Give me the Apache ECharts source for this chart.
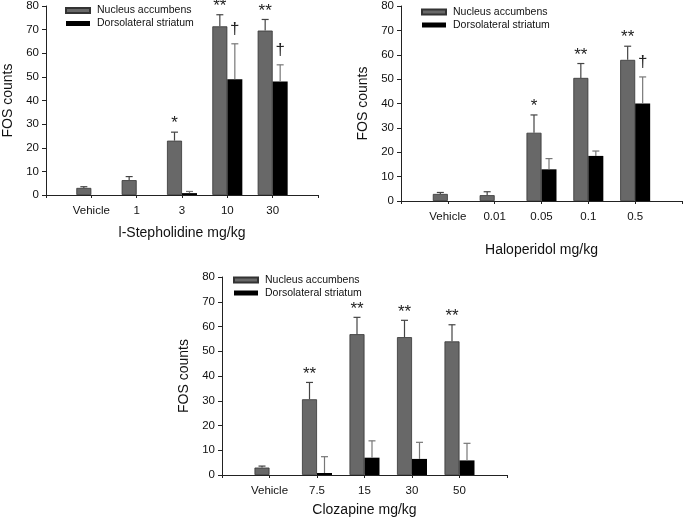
<!DOCTYPE html>
<html><head><meta charset="utf-8">
<script src="https://cdn.jsdelivr.net/npm/echarts@6/dist/echarts.min.js"></script>
<style>html,body{margin:0;padding:0;background:#fff}#c{width:685px;height:519px}</style>
</head><body><div id="c"></div>
<script>
const seriesNames = ['Nucleus accumbens', 'Dorsolateral striatum'];
const yTickMin = 0, yTickMax = 80, yTickStep = 10;

// Panel 1: l-Stepholidine
const stephCategories = ['Vehicle', '1', '3', '10', '30'];
const stephNA = [3.0, 6.3, 23.0, 71.4, 69.6];
const stephNAErr = [0.5, 1.5, 3.6, 4.9, 4.7];
const stephDS = [0, 0, 0.8, 49.0, 48.0];
const stephDSErr = [0, 0, 0.7, 15.0, 7.1];
const stephNASig = ['', '', '*', '**', '**'];
const stephDSSig = ['', '', '', '\u2020', '\u2020'];

// Panel 2: Haloperidol
const haloCategories = ['Vehicle', '0.01', '0.05', '0.1', '0.5'];
const haloNA = [2.9, 2.4, 28.0, 50.5, 57.9];
const haloNAErr = [0.6, 1.4, 7.3, 5.9, 5.6];
const haloDS = [0, 0, 13.0, 18.5, 40.0];
const haloDSErr = [0, 0, 4.4, 2.0, 10.9];
const haloNASig = ['', '', '*', '**', '**'];
const haloDSSig = ['', '', '', '', '\u2020'];

// Panel 3: Clozapine
const clozCategories = ['Vehicle', '7.5', '15', '30', '50'];
const clozNA = [3.0, 30.6, 56.9, 55.7, 54.0];
const clozNAErr = [0.6, 6.8, 6.8, 6.8, 6.7];
const clozDS = [0, 0.8, 7.0, 6.5, 5.9];
const clozDSErr = [0, 6.6, 6.8, 6.7, 6.9];
const clozNASig = ['', '**', '**', '**', '**'];
const clozDSSig = ['', '', '', '', ''];

const FONT = 'Liberation Sans, Arial, sans-serif';
const NA_COLOR = '#686868';
const DS_COLOR = '#000000';
const BAR_W = 15;

const panels = [
  {cats: stephCategories, na: stephNA, naErr: stephNAErr, ds: stephDS, dsErr: stephDSErr, naSig: stephNASig, dsSig: stephDSSig,
   xName: 'l-Stepholidine mg/kg', grid: {left: 44, right: 367, top: 4, bottom: 324}, xNameGap: 31, legend: {left: 65, top: 5}},
  {cats: haloCategories, na: haloNA, naErr: haloNAErr, ds: haloDS, dsErr: haloDSErr, naSig: haloNASig, dsSig: haloDSSig,
   xName: 'Haloperidol mg/kg', grid: {left: 401, right: 2, top: 4.5, bottom: 318}, xNameGap: 42, legend: {left: 421, top: 6.5}},
  {cats: clozCategories, na: clozNA, naErr: clozNAErr, ds: clozDS, dsErr: clozDSErr, naSig: clozNASig, dsSig: clozDSSig,
   xName: 'Clozapine mg/kg', grid: {left: 222, right: 178, top: 277, bottom: 44}, xNameGap: 28, legend: {left: 233, top: 274.5}}
];

const pad = arr => ['-'].concat(arr, ['-']);

function errSeries(idx, vals, errs, side, color) {
  return {
    type: 'custom', xAxisIndex: idx, yAxisIndex: idx, z: 4, silent: true,
    data: vals.map((v, i) => [i + 1, v, errs[i]]),
    encode: {x: 0, y: 1},
    renderItem(params, api) {
      const cat = api.value(0), v = api.value(1), e = api.value(2);
      if (!e) return null;
      const base = api.coord([cat, v]);
      const top = api.coord([cat, v + e]);
      const x = base[0] + side * BAR_W / 2;
      return {type: 'group', children: [
        {type: 'line', shape: {x1: x, y1: base[1], x2: x, y2: top[1]}, style: {stroke: color, lineWidth: 1.2}},
        {type: 'line', shape: {x1: x - 3.5, y1: top[1], x2: x + 3.5, y2: top[1]}, style: {stroke: color, lineWidth: 1.2}}
      ]};
    }
  };
}

function sigSeries(idx, vals, errs, sigs, side, gap, size) {
  return {
    type: 'custom', xAxisIndex: idx, yAxisIndex: idx, z: 5, silent: true,
    data: vals.map((v, i) => [i + 1, v + errs[i]]),
    encode: {x: 0, y: 1},
    renderItem(params, api) {
      const label = sigs[params.dataIndex];
      if (!label) return null;
      const p = api.coord([api.value(0), api.value(1)]);
      return {type: 'text', x: p[0] + side * BAR_W / 2, y: p[1] - gap,
        style: {text: label, fill: '#222', font: size + 'px ' + FONT, align: 'center', verticalAlign: 'bottom'}};
    }
  };
}

const option = {
  animation: false,
  backgroundColor: '#fff',
  textStyle: {fontFamily: FONT},
  grid: panels.map(p => p.grid),
  legend: panels.map(p => ({
    left: p.legend.left, top: p.legend.top, orient: 'vertical', data: seriesNames, padding: 0,
    itemWidth: 24, itemHeight: 5, itemGap: 2, icon: 'rect',
    textStyle: {fontSize: 10.5, color: '#111', fontFamily: FONT, padding: [0, 0, 0, 2]}, selectedMode: false
  })),
  xAxis: panels.map((p, i) => ({
    type: 'category', gridIndex: i, boundaryGap: false, data: [''].concat(p.cats, ['']),
    name: p.xName, nameLocation: 'middle', nameGap: p.xNameGap,
    nameTextStyle: {fontSize: 14, color: '#111'},
    axisLine: {lineStyle: {color: '#222', width: 1}},
    axisTick: {show: true, length: 3, lineStyle: {color: '#222'}},
    axisLabel: {interval: 0, fontSize: 11.5, color: '#111', margin: 10},
    splitLine: {show: false}
  })),
  yAxis: panels.map((p, i) => ({
    type: 'value', gridIndex: i, min: yTickMin, max: yTickMax, interval: yTickStep,
    name: 'FOS counts', nameLocation: 'middle', nameGap: 31,
    nameTextStyle: {fontSize: 14, color: '#111'},
    axisLine: {show: true, lineStyle: {color: '#222', width: 1}},
    axisTick: {show: true, length: 4, lineStyle: {color: '#222'}},
    axisLabel: {fontSize: 11.5, color: '#111', margin: 7},
    splitLine: {show: false}
  })),
  series: []
};

panels.forEach((p, i) => {
  option.series.push({
    type: 'bar', name: seriesNames[0], xAxisIndex: i, yAxisIndex: i, data: pad(p.na),
    barWidth: BAR_W, barGap: '0%', itemStyle: {color: NA_COLOR, borderColor: '#333', borderWidth: 0.8}, z: 2
  });
  option.series.push({
    type: 'bar', name: seriesNames[1], xAxisIndex: i, yAxisIndex: i, data: pad(p.ds),
    barWidth: BAR_W, barGap: '0%', itemStyle: {color: DS_COLOR}, z: 2
  });
  option.series.push(errSeries(i, p.na, p.naErr, -1, '#444'));
  option.series.push(errSeries(i, p.ds, p.dsErr, 1, '#777'));
  option.series.push(sigSeries(i, p.na, p.naErr, p.naSig, -1, 0, 17));
  option.series.push(sigSeries(i, p.ds, p.dsErr, p.dsSig, 1, 6, 17));
});

const chart = echarts.init(document.getElementById('c'), null, {renderer: 'canvas'});
chart.setOption(option);
</script>
</body></html>
